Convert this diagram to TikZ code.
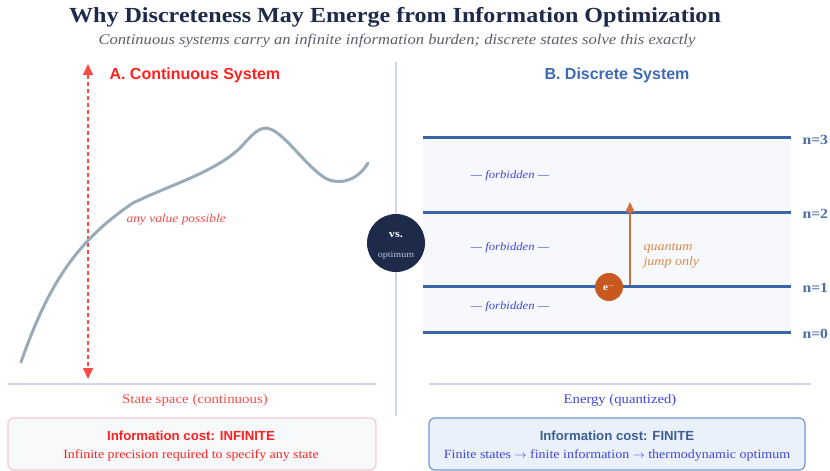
\documentclass[tikz,border=0pt]{standalone}
\usepackage{fontspec}
\setmainfont[FakeStretch=1.12]{Liberation Serif}
\setsansfont{Liberation Sans}
\usetikzlibrary{arrows.meta}
\definecolor{navy}{HTML}{1E2A4A}
\definecolor{subgray}{HTML}{5A5F6B}
\definecolor{divline}{HTML}{CCD8EA}
\definecolor{redA}{HTML}{FF2020}
\definecolor{redL}{HTML}{FF4A4A}
\definecolor{curvegray}{HTML}{9AABB8}
\definecolor{blueB}{HTML}{3D6BB3}
\definecolor{levelblue}{HTML}{3A64A8}
\definecolor{nlab}{HTML}{4A6FA5}
\definecolor{violetblue}{HTML}{3F45E0}
\definecolor{bandfill}{HTML}{F6F8FC}
\definecolor{orangeE}{HTML}{C9581E}
\definecolor{orangeT}{HTML}{D88A4A}
\definecolor{leftboxfill}{HTML}{F8F9FB}
\definecolor{leftboxdraw}{HTML}{F6CACF}
\definecolor{rightboxfill}{HTML}{EAF1FB}
\definecolor{rightboxdraw}{HTML}{7397CB}
\definecolor{costblue}{HTML}{3B5F95}
\definecolor{vsgray}{HTML}{B8C4D8}
\tikzset{
  sz/.style={font=\fontsize{#1}{#1}\selectfont},
  heading/.style={font=\sffamily\bfseries\fontsize{16}{19}\selectfont},
  levelline/.style={draw=levelblue, line width=3pt},
  nlabel/.style={anchor=west, text=nlab, font=\bfseries\fontsize{14}{16}\selectfont},
  forb/.style={text=violetblue, font=\itshape\fontsize{11.3}{13}\selectfont},
  axisline/.style={draw=divline, line width=2pt},
  costbox/.style={draw, rounded corners=6pt, line width=1.2pt, minimum height=52pt, align=center},
  costhead/.style={font=\sffamily\bfseries\fontsize{13.2}{15}\selectfont},
}
\begin{document}
\begin{tikzpicture}[x=1pt,y=-1pt]
\useasboundingbox (0,0) rectangle (830,471);
\fill[white] (0,0) rectangle (830,471);
% title
\node[text=navy, font=\bfseries\fontsize{21.5}{24}\selectfont] (title) at (395,17) {Why Discreteness May Emerge from Information Optimization};
\node[text=subgray, font=\itshape\fontsize{14.8}{17}\selectfont] (subtitle) at (397,41) {Continuous systems carry an infinite information burden; discrete states solve this exactly};
% divider
\coordinate (divtop) at (396,62);
\coordinate (divbot) at (396,416);
\draw[axisline] (divtop) -- (divbot);
% left panel
\node[heading, text=redA, anchor=west] (headA) at (106,75) {A. Continuous System};
\coordinate (dtop) at (88,64);
\coordinate (dbot) at (88,379);
\draw[redL, line width=1.6pt, dash pattern=on 4pt off 3pt, {Triangle[width=10pt,length=11pt]}-{Triangle[width=10pt,length=11pt]}] (dtop) -- (dbot);
\draw[curvegray, line width=3pt, line cap=round] (21,362) .. controls (45,295) and (70,245) .. (133,203) .. controls (170,185) and (215,172) .. (240,148) .. controls (252,135) and (260,125) .. (270,129) .. controls (285,134) and (305,165) .. (325,178) .. controls (340,186) and (358,180) .. (368,163);
\node[text=redL, font=\itshape\fontsize{12}{14}\selectfont, anchor=west] (anyval) at (123,220) {any value possible};
\coordinate (axLl) at (8,384);
\coordinate (axLr) at (376,384);
\draw[axisline] (axLl) -- (axLr);
\node[text=redL, sz=13.3] (statespace) at (195,400) {State space (continuous)};
\node[costbox, fill=leftboxfill, draw=leftboxdraw, minimum width=368pt] (costL) at (192,444) {};
\node[costhead, text=redA] (costLa) at (191,436) {Information cost: INFINITE};
\node[text=redA, sz=12.4] (costLb) at (191,455) {Infinite precision required to specify any state};
% right panel
\node[heading, text=blueB] (headB) at (617,75) {B. Discrete System};
\fill[bandfill] (423,137) rectangle (791,332);
\coordinate (l3a) at (423,137); \coordinate (l3b) at (791,137);
\coordinate (l2a) at (423,212); \coordinate (l2b) at (791,212);
\coordinate (l1a) at (423,286); \coordinate (l1b) at (791,286);
\coordinate (l0a) at (423,332); \coordinate (l0b) at (791,332);
\draw[levelline] (l3a) -- (l3b);
\draw[levelline] (l2a) -- (l2b);
\draw[levelline] (l1a) -- (l1b);
\draw[levelline] (l0a) -- (l0b);
\node[nlabel] (n3) at (799,140) {n=3};
\node[nlabel] (n2) at (799,214) {n=2};
\node[nlabel] (n1) at (799,288) {n=1};
\node[nlabel] (n0) at (799,334) {n=0};
\node[forb] (f1) at (510,176) {--- forbidden ---};
\node[forb] (f2) at (510,248) {--- forbidden ---};
\node[forb] (f3) at (510,307) {--- forbidden ---};
\coordinate (jfrom) at (630,285);
\coordinate (jto) at (630,202);
\draw[orangeE!85!white, line width=2pt, -{Triangle[width=9pt,length=10pt]}] (jfrom) -- (jto);
\node[circle, fill=orangeE, minimum size=28pt, inner sep=0pt, text=white, font=\bfseries\fontsize{10}{11}\selectfont] (e) at (609,287) {e\textsuperscript{\(-\)}};
\node[text=orangeT, font=\itshape\fontsize{12.5}{15}\selectfont, anchor=west, align=left] (qj) at (640,256) {quantum\\[0pt]jump only};
\coordinate (axRl) at (429,384);
\coordinate (axRr) at (811,384);
\draw[axisline] (axRl) -- (axRr);
\node[text=violetblue, sz=13.1] (energy) at (620,400) {Energy (quantized)};
\node[costbox, fill=rightboxfill, draw=rightboxdraw, minimum width=376pt] (costR) at (617,444) {};
\node[costhead, text=costblue] (costRa) at (617,436) {Information cost: FINITE};
\node[text=violetblue, sz=12.5] (costRb) at (617,455) {Finite states \(\rightarrow\) finite information \(\rightarrow\) thermodynamic optimum};
% vs circle
\node[circle, fill=navy, minimum size=58pt, inner sep=0pt] (vs) at (396,243) {};
\node[text=white, font=\bfseries\fontsize{11}{12}\selectfont] (vst) at (396,235) {vs.};
\node[text=vsgray, sz=9] (opt) at (396,255) {optimum};
\end{tikzpicture}
\end{document}
